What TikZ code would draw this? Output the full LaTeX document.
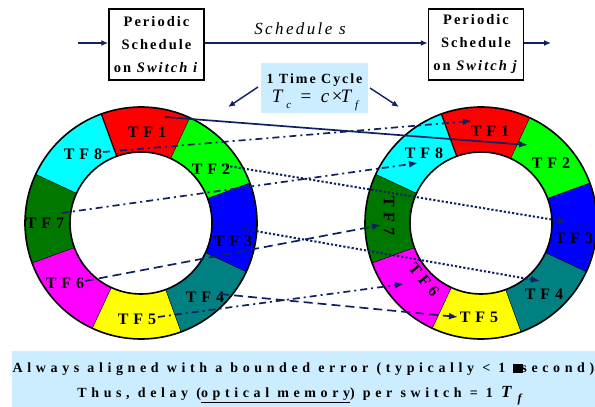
\documentclass[tikz,border=0pt]{standalone}
\usepackage{fontspec}
\setmainfont{Liberation Serif}
\newfontfamily\lsA[LetterSpace=14]{Liberation Serif}
\newfontfamily\lsB[LetterSpace=30]{Liberation Serif}
\newfontfamily\lsC[LetterSpace=33]{Liberation Serif}
\usetikzlibrary{arrows.meta}
\definecolor{navy}{RGB}{16,32,96}
\definecolor{lblue}{RGB}{204,236,255}
\definecolor{tfred}{RGB}{255,0,0}
\definecolor{tfgreen}{RGB}{0,255,0}
\definecolor{tfblue}{RGB}{0,0,255}
\definecolor{tfteal}{RGB}{0,128,128}
\definecolor{tfyellow}{RGB}{255,255,0}
\definecolor{tfmag}{RGB}{255,0,255}
\definecolor{tfdgreen}{RGB}{0,120,0}
\definecolor{tfcyan}{RGB}{0,255,255}
\newcommand\boxfont{\lsA\bfseries\fontsize{14.5}{23}\selectfont}
\newcommand\tffont{\lsB\bfseries\fontsize{16}{16}\selectfont}
\begin{document}
\begin{tikzpicture}[x=1pt,y=-1pt,
  boxlbl/.style={draw, line width=1.5pt, minimum width=95pt, minimum height=71pt, align=center, font=\boxfont, inner sep=0pt},
  tflbl/.style={font=\tffont, inner sep=0pt},
  link/.style={navy, line width=1.7pt, -{Latex[length=9pt,width=7pt]}},
  dashdot/.style={dash pattern=on 7pt off 4pt on 2pt off 4pt},
  sqdots/.style={line width=2pt, dash pattern=on 2.2pt off 2pt},
  longdash/.style={dash pattern=on 9pt off 5pt},
  topar/.style={navy, line width=1.4pt, -{Latex[length=7pt,width=6pt]}},
  bluebg/.style={fill=lblue, draw=none}
]
\useasboundingbox (0,0) rectangle (595,407);

% rings
\foreach \cx in {141,481}{
 \begin{scope}[shift={(\cx,223)},yscale=-1]
  \foreach \a/\c in {65/tfred,20/tfgreen,-25/tfblue,-70/tfteal,-115/tfyellow,-160/tfmag,-205/tfdgreen,110/tfcyan}{
   \fill[\c] (\a:116) arc[start angle=\a, delta angle=45, radius=116] -- (\a+45:71) arc[start angle=\a+45, delta angle=-45, radius=71] -- cycle;
   \draw[line width=1.2pt] (\a:71) -- (\a:116);
  }
  \draw[line width=1.6pt] (0,0) circle[radius=116] (0,0) circle[radius=71];
 \end{scope}}

% top boxes
\node[boxlbl] (swi) at (156.5,44.5) {Periodic\\Schedule\\on \textit{Switch i}};
\node[boxlbl] (swj) at (476,44.5) {Periodic\\Schedule\\on \textit{Switch j}};
\coordinate (inL) at (78,43);
\coordinate (outR) at (551,43);
\draw[topar] (inL) -- (inL -| swi.west);
\draw[topar] (swi.east |- 0,43) -- (swj.west |- 0,43);
\draw[topar] (swj.east |- 0,43) -- (outR);
\node[font=\lsA\itshape\fontsize{17}{17}\selectfont, inner sep=0pt] (sched) at (300,29) {Schedule s};

% time cycle box
\fill[bluebg] (261,63) rectangle (368,113);
\node[font=\lsA\bfseries\fontsize{14}{14}\selectfont, inner sep=0pt] (tc) at (314.5,80) {1 Time Cycle};
\node[font=\lsA\fontsize{19}{19}\selectfont, inner sep=0pt] (form) at (315,100) {\textit{T}\raisebox{-6pt}{\fontsize{11}{11}\selectfont\itshape c}\enspace=\enspace\textit{c}×\kern-2pt\textit{T}\raisebox{-6pt}{\fontsize{11}{11}\selectfont\itshape f}};
\coordinate (tcl) at (258,87);
\coordinate (tcr) at (370,88);
\coordinate (rl) at (228,107);
\coordinate (rr) at (399,107);
\draw[topar] (tcl) -- (rl);
\draw[topar] (tcr) -- (rr);

% ring labels left
\node[tflbl] (L1) at (147,132) {TF1};
\node[tflbl] (L2) at (211,169) {TF2};
\node[tflbl] (L3) at (233,241) {TF3};
\node[tflbl] (L4) at (205,297) {TF4};
\node[tflbl] (L5) at (137,319) {TF5};
\node[tflbl] (L6) at (65,283) {TF6};
\node[tflbl] (L7) at (45,223) {TF7};
\node[tflbl] (L8) at (83,154) {TF8};
% ring labels right
\node[tflbl] (R1) at (490,131) {TF1};
\node[tflbl] (R2) at (551,163) {TF2};
\node[tflbl] (R3) at (574,238) {TF3};
\node[tflbl] (R4) at (544,294) {TF4};
\node[tflbl] (R5) at (479,317) {TF5};
\node[tflbl, rotate=-50] (R6) at (424,280) {TF6};
\node[tflbl, rotate=-90] (R7) at (389,216) {TF7};
\node[tflbl] (R8) at (424,153) {TF8};

% connector end points
\coordinate (s1) at (165,117);  \coordinate (e1) at (528,145);
\coordinate (s8) at (103,152);  \coordinate (e8) at (472,121);
\coordinate (s2) at (222,165);  \coordinate (e2) at (567,222);
\coordinate (s7) at (62,213);   \coordinate (e7) at (418,163);
\coordinate (s3) at (244,229);  \coordinate (e3) at (540,281);
\coordinate (s6) at (85,281);   \coordinate (e6) at (381,225);
\coordinate (s4) at (220,294);  \coordinate (e4) at (458,317);
\coordinate (s5) at (158,317);  \coordinate (e5) at (404,284);

\draw[link] (s1) -- (e1);
\draw[link, dashdot] (s8) -- (e8);
\draw[link, sqdots] (s2) -- (e2);
\draw[link, dashdot] (s7) -- (e7);
\draw[link, sqdots] (s3) -- (e3);
\draw[link, longdash] (s6) -- (e6);
\draw[link, longdash] (s4) -- (e4);
\draw[link, dashdot] (s5) -- (e5);

% bottom box
\fill[bluebg] (12,351) rectangle (600,407);
\node[font=\lsC\bfseries\fontsize{14}{14}\selectfont, inner sep=0pt] (b1) at (303.5,369) {Always aligned with a bounded error (typically < 1 \rule[-0.5pt]{10pt}{8.5pt}\kern-2pt second)};
\node[font=\lsC\bfseries\fontsize{14}{14}\selectfont, inner sep=0pt] (b2) at (299.5,396) {Thus, delay (\underline{optical memory}) per switch = 1 {\fontsize{17}{17}\selectfont\textit{T}}\raisebox{-5pt}{\fontsize{12}{12}\selectfont\itshape f}};
\end{tikzpicture}
\end{document}
